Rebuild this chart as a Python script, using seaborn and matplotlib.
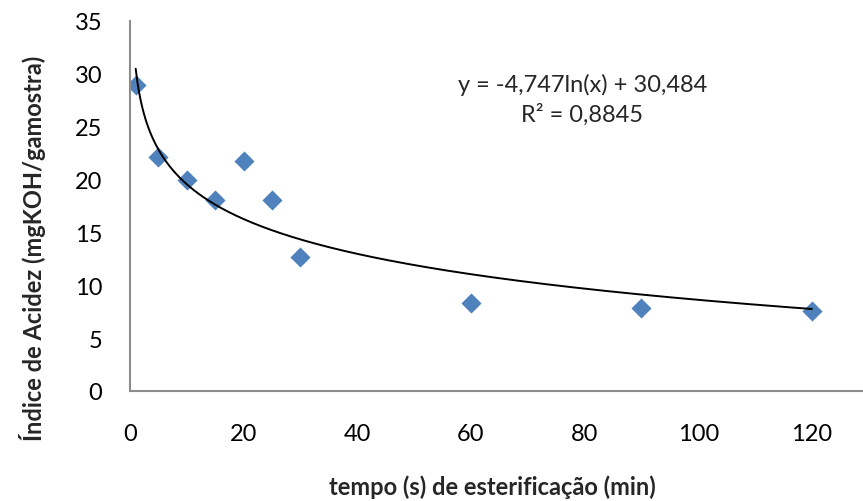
import numpy as np
import pandas as pd
import matplotlib
matplotlib.use("Agg")
import matplotlib.pyplot as plt
import seaborn as sns

# Data
tempo = [1, 5, 10, 15, 20, 25, 30, 60, 90, 120]
acidez = [28.9, 22.1, 20.0, 18.05, 21.75, 18.05, 12.65, 8.3, 7.85, 7.6]

# Logarithmic trendline coefficients shown on the chart
coef_a = -4.747
coef_b = 30.484
eq_text = "y = -4,747ln(x) + 30,484"
r2_text = "R² = 0,8845"

x_ticks = [0, 20, 40, 60, 80, 100, 120]
y_ticks = [0, 5, 10, 15, 20, 25, 30, 35]

sns.set_theme(style="white")
plt.rcParams['font.family'] = ['Lato', 'DejaVu Sans']

fig = plt.figure(figsize=(8.63, 5.02), dpi=100)
ax = fig.add_axes([130 / 863, (502 - 392) / 502, 1 - 130 / 863, (392 - 22) / 502])

df = pd.DataFrame({"tempo": tempo, "acidez": acidez})
xs = np.linspace(min(tempo), max(tempo), 400)
trend = pd.DataFrame({"x": xs, "y": coef_a * np.log(xs) + coef_b})

sns.lineplot(data=trend, x="x", y="y", color="black", linewidth=1.4, ax=ax, zorder=3)
sns.scatterplot(data=df, x="tempo", y="acidez", marker="D", s=105,
                color="#4F81BD", edgecolor="#4F81BD", linewidth=0, ax=ax, zorder=2)

ax.set_xlim(0, 129)
ax.set_ylim(0, 35)
ax.set_xticks(x_ticks)
ax.set_yticks(y_ticks)
ax.tick_params(axis="both", length=0, labelsize=17, colors="black")
ax.tick_params(axis="x", pad=23)
ax.tick_params(axis="y", pad=20)

for s in ["top", "right"]:
    ax.spines[s].set_visible(False)
for s in ["left", "bottom"]:
    ax.spines[s].set_color("#8C8C8C")
    ax.spines[s].set_linewidth(1.5)

ax.set_xlabel("tempo (s) de esterificação (min)", fontsize=17, fontweight="bold")
ax.set_ylabel("Índice de Acidez (mgKOH/gamostra)", fontsize=17, fontweight="bold")
ax.xaxis.label.set_va("center")
ax.yaxis.label.set_va("center")
ax.xaxis.set_label_coords((492 - 130) / 733, -(487 - 392) / 370)
ax.yaxis.set_label_coords(-(130 - 33) / 733, (392 - 248) / 370)

fig.text(583 / 863, 1 - 85 / 502, eq_text, ha="center", va="center", fontsize=17)
fig.text(582 / 863, 1 - 115 / 502, r2_text, ha="center", va="center", fontsize=17)

fig.savefig("out.png", dpi=100)
